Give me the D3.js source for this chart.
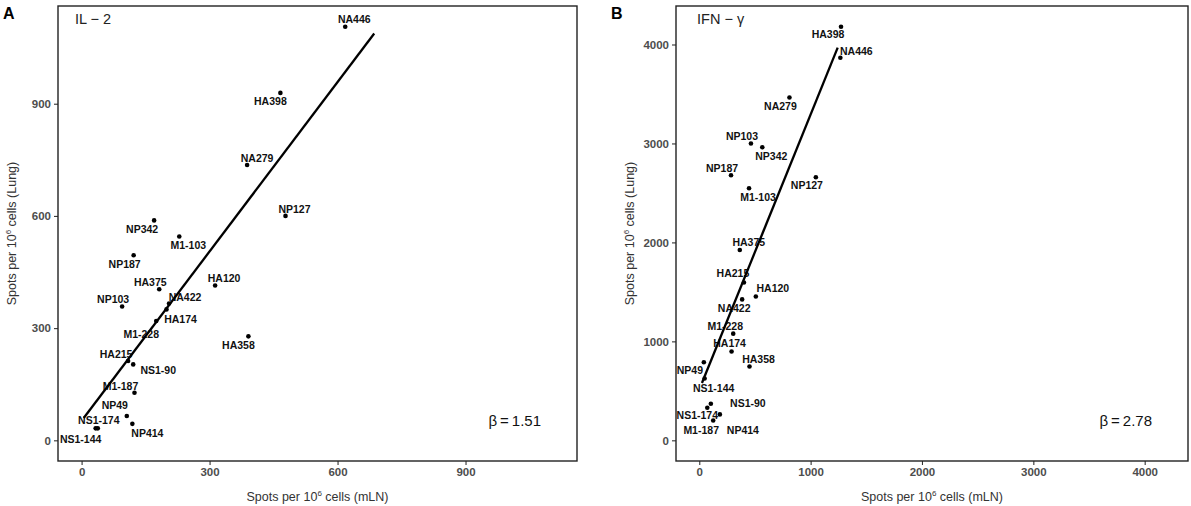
<!DOCTYPE html>
<html lang="en">
<head>
    <meta charset="UTF-8">
    <title>IL-2 and IFN-gamma spots, mLN vs lung</title>
    <script src="https://d3js.org/d3.v7.min.js"></script>
    <style>
        body { margin: 0; background: #fff; }
        svg { display: block; font-family: "Liberation Sans", Arial, sans-serif; }
        .tick-label { font-size: 11.5px; font-weight: bold; fill: #4d4d4d; }
        .axis-title { font-size: 12.5px; fill: #333; }
        .pt-label { font-size: 10.5px; font-weight: bold; fill: #111; }
    </style>
</head>
<body>
<div id="chart"></div>
<script>
    // peptides
    const peptides = ["NA446", "HA398", "NA279", "NP127", "NP342", "M1-103", "NP187",
        "HA120", "HA375", "NP103", "NA422", "HA174", "M1-228", "HA358", "HA215",
        "NS1-90", "M1-187", "NP49", "NP414", "NS1-174", "NS1-144"];

    // panel A: IL-2
    const il2Mln  = [618, 466, 388, 478, 170, 229, 122, 313, 182, 95, 205, 199, 175, 391, 109, 121, 124, 106, 119, 38, 33];
    const il2Lung = [1106, 929, 736, 600, 588, 545, 495, 414, 404, 358, 366, 350, 319, 278, 212, 203, 127, 65, 44, 32, 32];
    const il2Fit = [52, 1.51];        // intercept, slope
    const il2FitRange = [5, 686];

    // panel B: IFN-gamma
    const ifnMln  = [1267, 1273, 810, 1047, 566, 447, 285, 508, 364, 464, 385, 290, 305, 451, 401, 104, 125, 41, 185, 72, 48];
    const ifnLung = [3866, 4180, 3464, 2659, 2962, 2548, 2679, 1454, 1924, 2999, 1424, 897, 1078, 746, 1595, 370, 201, 789, 262, 329, 625];
    const ifnFit = [513, 2.78];
    const ifnFitRange = [24, 1243];

    const il2Ticks = [0, 300, 600, 900];
    const ifnTicks = [0, 1000, 2000, 3000, 4000];

    // where ggrepel put each label, relative to its point (px)
    const offsetA = {
        "NA446": [9, -7], "HA398": [-10, 8], "NA279": [10, -7], "NP127": [9, -7],
        "NP342": [-12, 9], "M1-103": [9, 9], "NP187": [-9, 9], "HA120": [9, -7],
        "HA375": [-9, -7], "NP103": [-9, -7], "NA422": [16, -6], "HA174": [14, 10],
        "M1-228": [-15, 13], "HA358": [-10, 9], "HA215": [-12, -7], "NS1-90": [25, 6],
        "M1-187": [-14, -7], "NP49": [-12, -11], "NP414": [15, 9], "NS1-174": [1, -8],
        "NS1-144": [-15, 11]
    };
    const offsetB = {
        "HA398": [-13, 8], "NA446": [16, -7], "NA279": [-9, 9], "NP103": [-9, -7],
        "NP342": [9, 9], "NP187": [-9, -7], "NP127": [-9, 8], "M1-103": [9, 9],
        "HA375": [9, -8], "HA215": [-11, -9], "HA120": [17, -8], "NA422": [-8, 9],
        "M1-228": [-8, -7], "HA174": [-2, -8], "HA358": [9, -7], "NP49": [-14, 8],
        "NS1-144": [9, 10], "NS1-90": [37, 0], "NS1-174": [-10, 7], "NP414": [23, 16],
        "M1-187": [-12, 10]
    };

    const width = 1191, height = 506;

    const svg = d3.select("#chart").append("svg")
        .attr("width", width)
        .attr("height", height);

    function panel(opt) {
        const data = peptides.map((p, i) => ({ name: p, x: opt.xs[i], y: opt.ys[i] }));

        // same limits on both axes, 5% padding like ggplot
        const max = d3.max(data, d => Math.max(d.x, d.y));
        const pad = max * 0.05;

        const x = d3.scaleLinear().domain([-pad, max + pad]).range([opt.left, opt.right]);
        const y = d3.scaleLinear().domain([-pad, max + pad]).range([opt.bottom, opt.top]);

        const g = svg.append("g");

        // axes
        const fmt = d3.format("d");
        const xAxis = g.append("g")
            .attr("transform", `translate(0,${opt.bottom})`)
            .call(d3.axisBottom(x).tickValues(opt.ticks).tickFormat(fmt).tickSize(4).tickPadding(3));
        const yAxis = g.append("g")
            .attr("transform", `translate(${opt.left},0)`)
            .call(d3.axisLeft(y).tickValues(opt.ticks).tickFormat(fmt).tickSize(4).tickPadding(3));

        [xAxis, yAxis].forEach(a => {
            a.select(".domain").remove();
            a.selectAll(".tick line").attr("stroke", "#333").attr("stroke-width", 1.1);
            a.selectAll(".tick text").attr("class", "tick-label").attr("font-family", null).attr("font-size", null);
        });

        // frame
        g.append("rect")
            .attr("x", opt.left)
            .attr("y", opt.top)
            .attr("width", opt.right - opt.left)
            .attr("height", opt.bottom - opt.top)
            .attr("fill", "none")
            .attr("stroke", "#222")
            .attr("stroke-width", 1.4);

        // points
        g.selectAll("circle")
            .data(data)
            .join("circle")
            .attr("cx", d => x(d.x))
            .attr("cy", d => y(d.y))
            .attr("r", 2.3)
            .attr("fill", "#000");

        // labels
        g.selectAll(".pt-label")
            .data(data)
            .join("text")
            .attr("class", "pt-label")
            .attr("x", d => x(d.x) + opt.offsets[d.name][0])
            .attr("y", d => y(d.y) + opt.offsets[d.name][1])
            .attr("dy", "0.36em")
            .attr("text-anchor", "middle")
            .text(d => d.name);

        // fitted line
        const line = d3.line().x(d => x(d)).y(d => y(opt.fit[0] + opt.fit[1] * d));
        g.append("path")
            .attr("d", line(opt.fitRange))
            .attr("fill", "none")
            .attr("stroke", "#000")
            .attr("stroke-width", 2.3);

        // axis titles
        const xt = g.append("text")
            .attr("class", "axis-title")
            .attr("x", (opt.left + opt.right) / 2)
            .attr("y", opt.bottom + 40)
            .attr("text-anchor", "middle");
        xt.append("tspan").text("Spots per 10");
        xt.append("tspan").attr("dy", -5).attr("font-size", "8px").text("6");
        xt.append("tspan").attr("dy", 5).text(" cells (mLN)");

        const yt = g.append("text")
            .attr("class", "axis-title")
            .attr("transform", `translate(${opt.left - 42},${(opt.top + opt.bottom) / 2}) rotate(-90)`)
            .attr("text-anchor", "middle");
        yt.append("tspan").text("Spots per 10");
        yt.append("tspan").attr("dy", -5).attr("font-size", "8px").text("6");
        yt.append("tspan").attr("dy", 5).text(" cells (Lung)");

        // panel letter, cytokine, beta
        g.append("text")
            .attr("x", opt.letterX)
            .attr("y", 19)
            .attr("font-size", 16)
            .attr("font-weight", "bold")
            .attr("fill", "#000")
            .text(opt.letter);

        g.append("text")
            .attr("x", opt.left + opt.nameDx)
            .attr("y", 24)
            .attr("font-size", 14.5)
            .attr("fill", "#222")
            .text(opt.name);

        g.append("text")
            .attr("x", opt.right - 36)
            .attr("y", 426)
            .attr("text-anchor", "end")
            .attr("font-size", 15)
            .attr("fill", "#111")
            .text(opt.beta);
    }

    panel({
        xs: il2Mln, ys: il2Lung, fit: il2Fit, fitRange: il2FitRange, ticks: il2Ticks,
        offsets: offsetA, left: 58, right: 577, top: 6, bottom: 461,
        letter: "A", letterX: 3, name: "IL \u2212 2", nameDx: 17, beta: "\u03B2\u2009=\u20091.51"
    });

    panel({
        xs: ifnMln, ys: ifnLung, fit: ifnFit, fitRange: ifnFitRange, ticks: ifnTicks,
        offsets: offsetB, left: 676, right: 1188, top: 6, bottom: 461,
        letter: "B", letterX: 611, name: "IFN \u2212 \u03B3", nameDx: 21, beta: "\u03B2\u2009=\u20092.78"
    });
</script>
</body>
</html>
